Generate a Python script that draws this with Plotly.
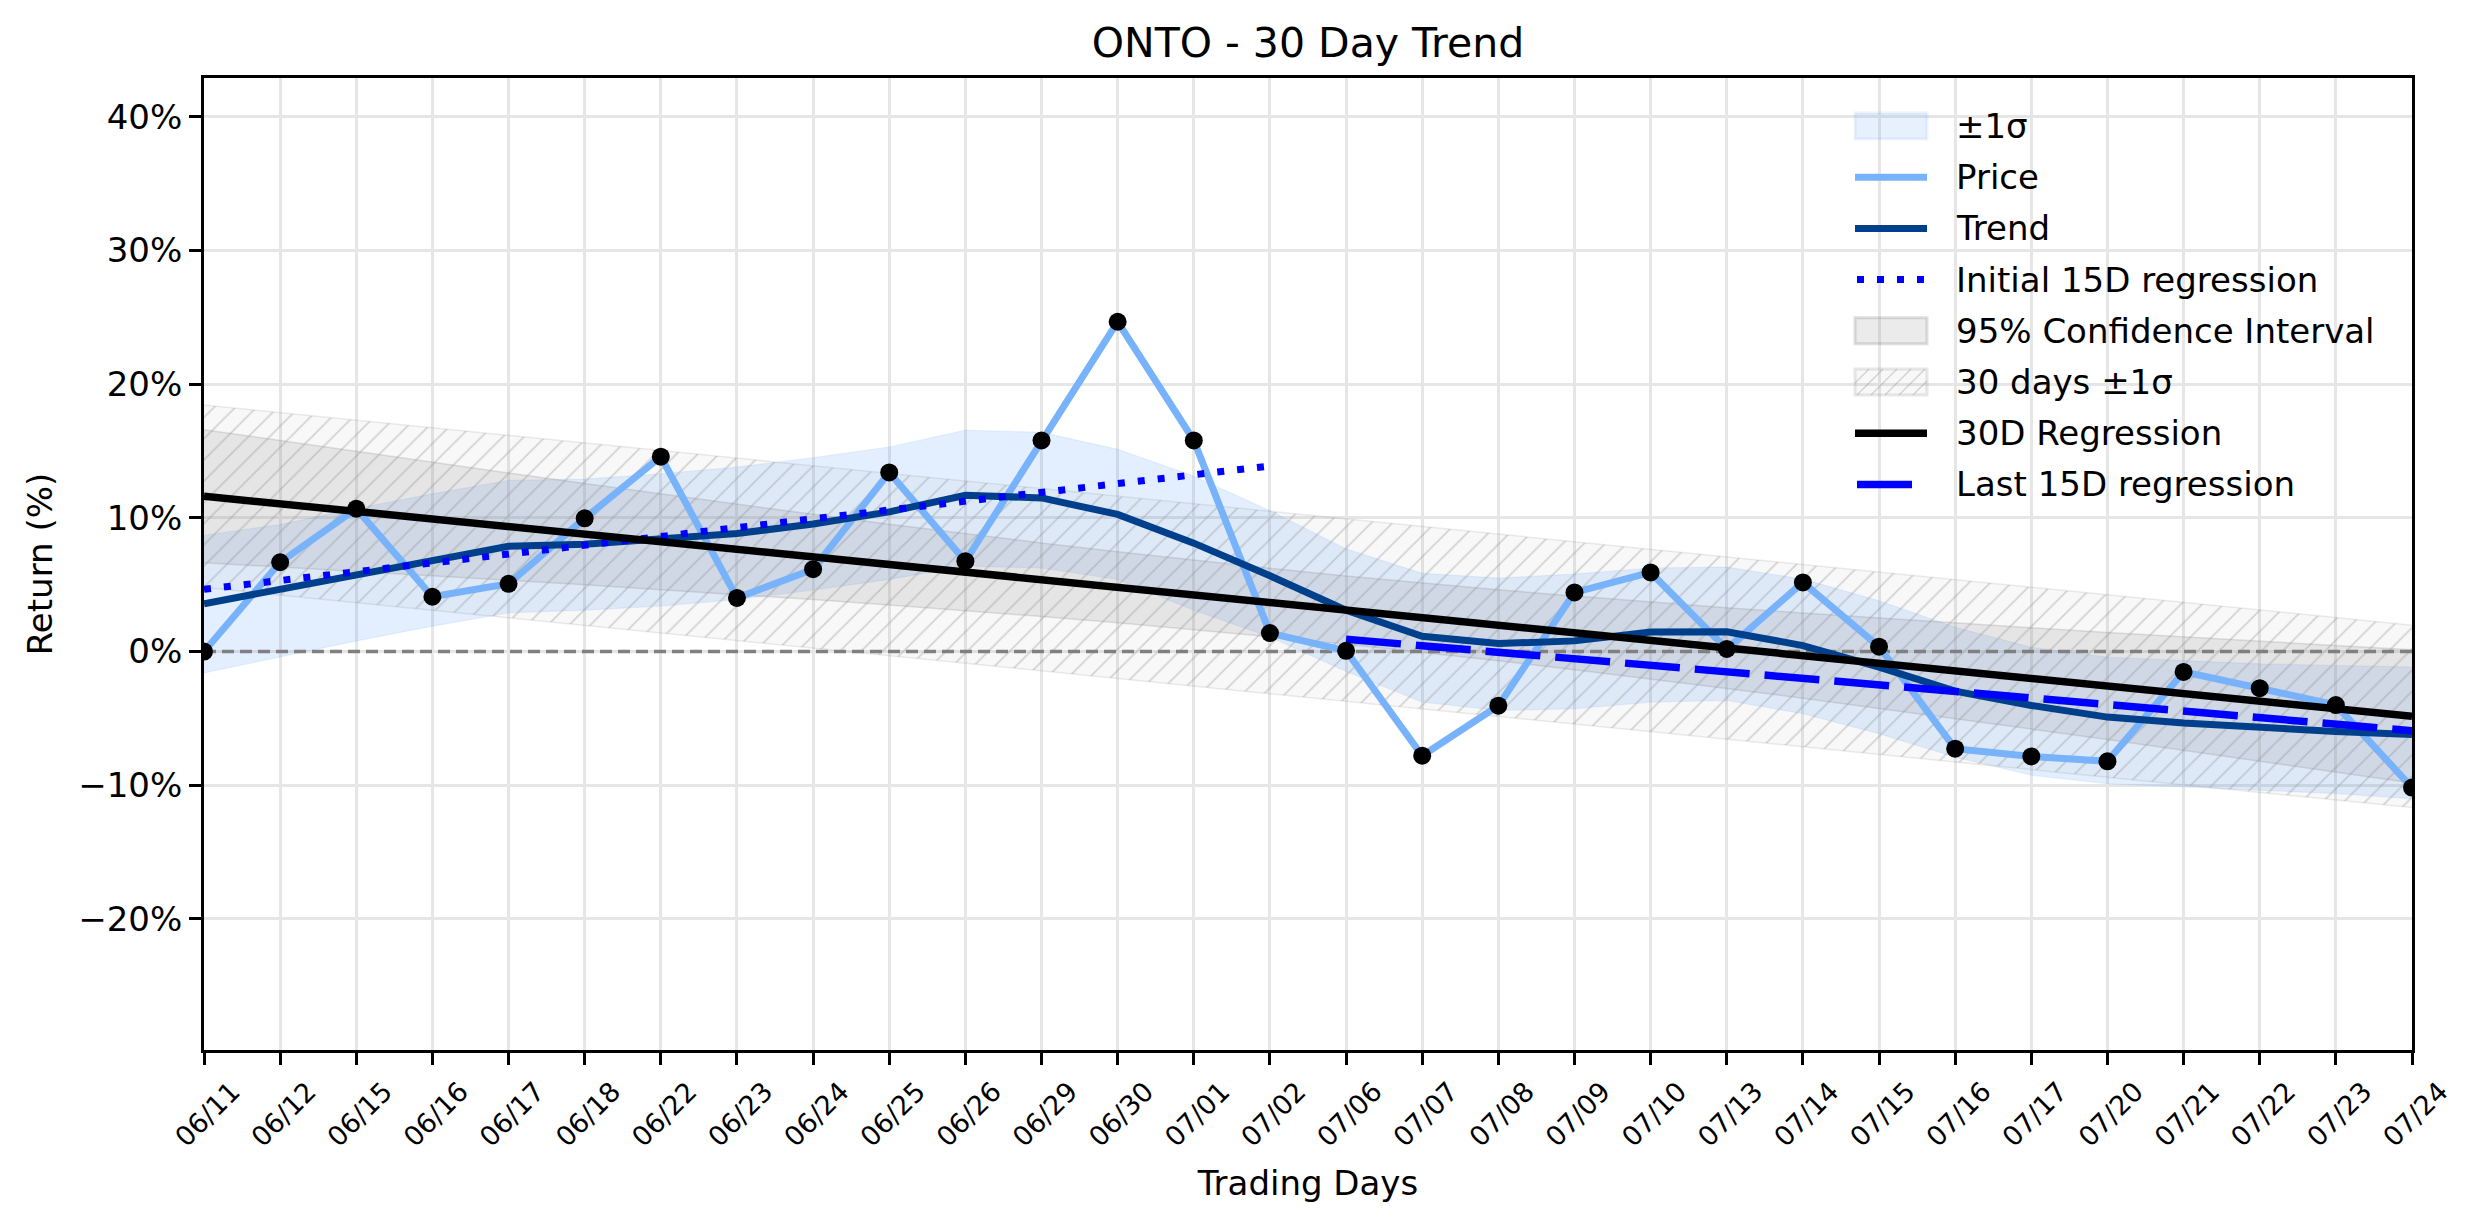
import numpy as np
import plotly.graph_objects as go

# ---------------- data ----------------
dates = ["06/11", "06/12", "06/15", "06/16", "06/17", "06/18", "06/22", "06/23",
         "06/24", "06/25", "06/26", "06/29", "06/30", "07/01", "07/02", "07/06",
         "07/07", "07/08", "07/09", "07/10", "07/13", "07/14", "07/15", "07/16",
         "07/17", "07/20", "07/21", "07/22", "07/23", "07/24"]

price = [0.0, 6.68, 10.69, 4.10, 5.07, 9.97, 14.58, 4.01, 6.16, 13.40,
         6.76, 15.79, 24.67, 15.79, 1.38, 0.06, -7.79, -4.05, 4.42, 5.92,
         0.20, 5.17, 0.37, -7.26, -7.84, -8.21, -1.52, -2.74, -4.00, -10.17]

trend = [3.58, 4.64, 5.79, 6.88, 7.88, 8.02, 8.40, 8.83, 9.54, 10.45,
         11.69, 11.49, 10.26, 8.11, 5.67, 3.09, 1.15, 0.60, 0.80, 1.46,
         1.48, 0.45, -1.17, -2.96, -4.03, -4.90, -5.35, -5.72, -5.97, -6.20]

band_upper = [8.7, 9.5, 10.7, 11.8, 12.8, 12.9, 13.3, 13.8, 14.5, 15.3,
              16.56, 16.4, 15.13, 13.12, 10.54, 7.68, 5.85, 5.5, 5.8, 6.25,
              6.32, 5.42, 3.8, 1.82, 0.32, -0.42, -0.67, -0.92, -1.04, -1.15]

band_lower = [-1.6, -0.4, 0.8, 1.9, 2.9, 3.1, 3.4, 3.9, 4.6, 5.4,
              6.39, 6.25, 5.39, 3.09, 1.09, -1.49, -3.78, -4.4, -4.28, -3.78,
              -3.66, -4.65, -6.14, -7.89, -9.25, -9.88, -10.12, -10.37, -10.62, -11.0]

y_ticks = [-20, -10, 0, 10, 20, 30, 40]
y_tick_labels = ["\u221220%", "\u221210%", "0%", "10%", "20%", "30%", "40%"]
legend_labels = ["±1σ", "Price", "Trend", "Initial 15D regression",
                 "95% Confidence Interval", "30 days ±1σ", "30D Regression",
                 "Last 15D regression"]
t_crit = 2.048  # Student t, 95%, 28 dof

# ---------------- derived statistics ----------------
n = len(price)
x = np.arange(n)
p = np.array(price)
coef30 = np.polyfit(x, p, 1)
fit30 = np.polyval(coef30, x)
resid = p - fit30
s_res = np.sqrt(np.sum(resid ** 2) / (n - 2))
sxx = np.sum((x - x.mean()) ** 2)
ci = t_crit * s_res * np.sqrt(1.0 / n + (x - x.mean()) ** 2 / sxx)

half = 15
xa = x[:half]
xb = x[half:]
fit_a = np.polyval(np.polyfit(xa, p[:half], 1), xa)
fit_b = np.polyval(np.polyfit(xb, p[half:], 1), xb)

# ---------------- styles ----------------
FONT = "DejaVu Sans"
C_BAND = "rgba(70,145,245,0.15)"
C_BAND_EDGE = "rgba(70,145,245,0.10)"
C_CI = "rgba(128,128,128,0.16)"
C_CI_EDGE = "rgba(128,128,128,0.22)"
C_HATCH_BG = "rgba(128,128,128,0.06)"
C_HATCH_FG = "rgba(140,140,140,0.35)"
C_HATCH_EDGE = "rgba(128,128,128,0.15)"
C_PRICE = "#78B2FA"
C_TREND = "#003F8C"
DOT = "7px,13px"
DASH = "55px,15px"

W, H = 2474, 1224
ML, MR, MT, MB = 204, 62, 78, 174
PW, PH = W - ML - MR, H - MT - MB

fig = go.Figure()

# ±1σ band
fig.add_trace(go.Scatter(x=x, y=band_lower, mode="lines",
                         line=dict(width=1.2, color=C_BAND_EDGE), hoverinfo="skip"))
fig.add_trace(go.Scatter(x=x, y=band_upper, mode="lines",
                         line=dict(width=1.2, color=C_BAND_EDGE),
                         fill="tonexty", fillcolor=C_BAND, name="±1σ"))

# 95% confidence interval
fig.add_trace(go.Scatter(x=x, y=fit30 - ci, mode="lines",
                         line=dict(width=1.5, color=C_CI_EDGE), hoverinfo="skip"))
fig.add_trace(go.Scatter(x=x, y=fit30 + ci, mode="lines",
                         line=dict(width=1.5, color=C_CI_EDGE),
                         fill="tonexty", fillcolor=C_CI, name="95% Confidence Interval"))

# 30 days ±1σ (hatched)
fig.add_trace(go.Scatter(x=x, y=fit30 - s_res, mode="lines",
                         line=dict(width=1.5, color=C_HATCH_EDGE), hoverinfo="skip"))
fig.add_trace(go.Scatter(x=x, y=fit30 + s_res, mode="lines",
                         line=dict(width=1.5, color=C_HATCH_EDGE),
                         fill="tonexty", fillcolor=C_HATCH_BG,
                         fillpattern=dict(shape="/", size=15, solidity=0.12,
                                          fgcolor=C_HATCH_FG, bgcolor=C_HATCH_BG,
                                          fillmode="replace"),
                         name="30 days ±1σ"))

# zero reference line
fig.add_trace(go.Scatter(x=[x[0], x[-1]], y=[0, 0], mode="lines",
                         line=dict(color="#808080", width=3.4, dash="12px,6px"),
                         hoverinfo="skip"))

fig.add_trace(go.Scatter(x=x, y=price, mode="lines",
                         line=dict(color=C_PRICE, width=7), name="Price"))
fig.add_trace(go.Scatter(x=x, y=trend, mode="lines",
                         line=dict(color=C_TREND, width=7), name="Trend"))
fig.add_trace(go.Scatter(x=xa, y=fit_a, mode="lines",
                         line=dict(color="#0000FF", width=7, dash=DOT),
                         name="Initial 15D regression"))
fig.add_trace(go.Scatter(x=x, y=fit30, mode="lines",
                         line=dict(color="#000000", width=7.5), name="30D Regression"))
fig.add_trace(go.Scatter(x=xb, y=fit_b, mode="lines",
                         line=dict(color="#0000FF", width=7.5, dash=DASH),
                         name="Last 15D regression"))
fig.add_trace(go.Scatter(x=x, y=price, mode="markers",
                         marker=dict(color="black", size=18), hoverinfo="skip"))

# ---------------- legend drawn in the upper right ----------------
def px_x(v):
    return (v - ML) / PW


def px_y(v):
    return (H - MB - v) / PH


shapes = []
annotations = []
sym_x0, sym_x1 = 1855, 1927
text_x = 1954
row0, row_h = 126, 51.2
patch_h = 26

for k, label in enumerate(legend_labels):
    yc = row0 + k * row_h
    annotations.append(dict(text=label, x=px_x(text_x), y=px_y(yc), xref="paper", yref="paper",
                            xanchor="left", yanchor="middle", showarrow=False,
                            font=dict(size=34, family=FONT, color="black")))
    top, bot = yc - patch_h / 2, yc + patch_h / 2

    def rect(fill, edge, ew):
        shapes.append(dict(type="rect", xref="paper", yref="paper",
                           x0=px_x(sym_x0), x1=px_x(sym_x1), y0=px_y(bot), y1=px_y(top),
                           fillcolor=fill, line=dict(color=edge, width=ew)))

    def hline(color, width, dash="solid", x0=sym_x0, x1=sym_x1):
        shapes.append(dict(type="line", xref="paper", yref="paper",
                           x0=px_x(x0), x1=px_x(x1), y0=px_y(yc), y1=px_y(yc),
                           line=dict(color=color, width=width, dash=dash)))

    if k == 0:
        rect("rgba(70,145,245,0.13)", "rgba(70,145,245,0.10)", 3)
    elif k == 1:
        hline(C_PRICE, 7)
    elif k == 2:
        hline(C_TREND, 7)
    elif k == 3:
        hline("#0000FF", 7, DOT, sym_x0 + 2, sym_x1)
    elif k == 4:
        rect(C_CI, "rgba(128,128,128,0.25)", 3)
    elif k == 5:
        rect(C_HATCH_BG, "rgba(128,128,128,0.18)", 3)
        step = 14
        c = sym_x0 - patch_h
        while c < sym_x1:
            t_lo = max(0, sym_x0 - c)
            t_hi = min(patch_h, sym_x1 - c)
            if t_hi > t_lo:
                shapes.append(dict(type="line", xref="paper", yref="paper",
                                   x0=px_x(c + t_lo), y0=px_y(bot - t_lo),
                                   x1=px_x(c + t_hi), y1=px_y(bot - t_hi),
                                   line=dict(color=C_HATCH_FG, width=1.5)))
            c += step
    elif k == 6:
        hline("#000000", 7.5)
    elif k == 7:
        hline("#0000FF", 7.5, DASH, sym_x0 + 2, sym_x1)

fig.update_traces(showlegend=False)
fig.update_layout(
    width=W, height=H,
    margin=dict(l=ML, r=MR, t=MT, b=MB, autoexpand=False),
    paper_bgcolor="white", plot_bgcolor="white",
    font=dict(family=FONT, color="black", size=34),
    title=dict(text="ONTO - 30 Day Trend", x=0.5, xref="paper", xanchor="center",
               y=1 - 42.5 / H, yref="container", yanchor="middle",
               font=dict(size=41, family=FONT, color="black")),
    showlegend=False,
    shapes=shapes,
    annotations=annotations,
)

fig.update_xaxes(
    range=[0, n - 1], tickmode="array", tickvals=list(x), ticktext=dates,
    tickangle=-45, tickfont=dict(size=27, family=FONT, color="black"),
    ticks="outside", ticklen=12, tickwidth=2.75, tickcolor="black",
    showline=True, linecolor="black", linewidth=2.75, mirror=True,
    showgrid=True, gridcolor="#E6E6E6", gridwidth=2.7, zeroline=False,
    ticklabelshift=28,
    title=dict(text="Trading Days", font=dict(size=34, family=FONT, color="black"), standoff=20),
)
fig.update_yaxes(
    range=[-29.8, 42.9], tickmode="array", tickvals=y_ticks, ticktext=y_tick_labels,
    tickfont=dict(size=34, family=FONT, color="black"),
    ticks="outside", ticklen=12, tickwidth=2.75, tickcolor="black",
    showline=True, linecolor="black", linewidth=2.75, mirror=True,
    showgrid=True, gridcolor="#E6E6E6", gridwidth=2.7, zeroline=False,
    title=dict(text="Return (%)", font=dict(size=34, family=FONT, color="black"), standoff=16),
)

fig.write_html("out.html")
